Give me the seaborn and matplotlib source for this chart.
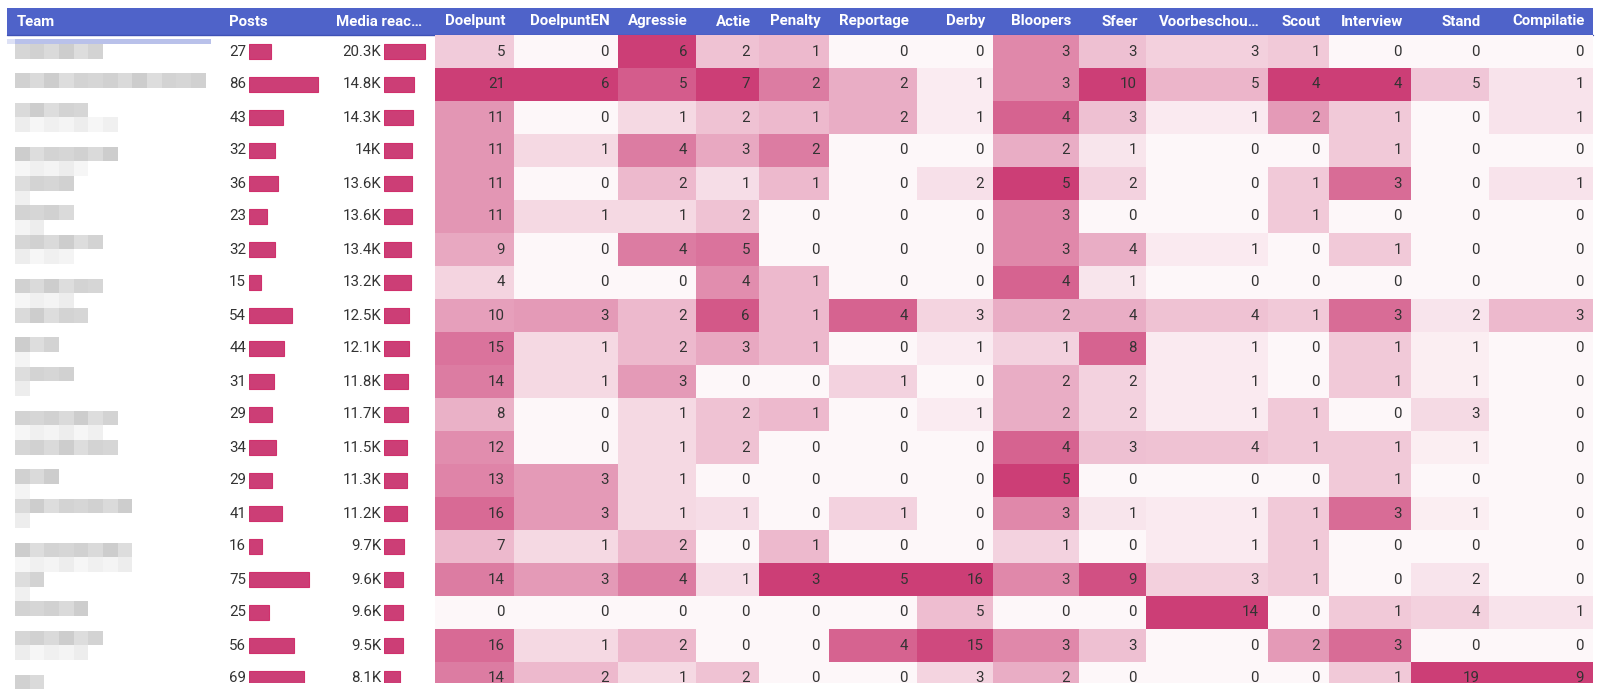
import numpy as np
import pandas as pd
import matplotlib
matplotlib.use("Agg")
import matplotlib.pyplot as plt
import matplotlib.transforms as mtransforms
from matplotlib.colors import LinearSegmentedColormap
from matplotlib.patches import Rectangle
import seaborn as sns

# ---------------- data ----------------
posts = [27, 86, 43, 32, 36, 23, 32, 15, 54, 44, 31, 29, 34, 29, 41, 16, 75, 25, 56, 69]
media = [20300, 14800, 14300, 14000, 13600, 13600, 13400, 13200, 12500, 12100,
         11800, 11700, 11500, 11300, 11200, 9700, 9600, 9600, 9500, 8100]
categories = ["Doelpunt", "DoelpuntEN", "Agressie", "Actie", "Penalty", "Reportage",
              "Derby", "Bloopers", "Sfeer", "Voorbeschou\u2026", "Scout", "Interview",
              "Stand", "Compilatie"]
doelpunt = [5, 21, 11, 11, 11, 11, 9, 4, 10, 15, 14, 8, 12, 13, 16, 7, 14, 0, 16, 14]
doelpunt_en = [0, 6, 0, 1, 0, 1, 0, 0, 3, 1, 1, 0, 0, 3, 3, 1, 3, 0, 1, 2]
agressie = [6, 5, 1, 4, 2, 1, 4, 0, 2, 2, 3, 1, 1, 1, 1, 2, 4, 0, 2, 1]
actie = [2, 7, 2, 3, 1, 2, 5, 4, 6, 3, 0, 2, 2, 0, 1, 0, 1, 0, 0, 2]
penalty = [1, 2, 1, 2, 1, 0, 0, 1, 1, 1, 0, 1, 0, 0, 0, 1, 3, 0, 0, 0]
reportage = [0, 2, 2, 0, 0, 0, 0, 0, 4, 0, 1, 0, 0, 0, 1, 0, 5, 0, 4, 0]
derby = [0, 1, 1, 0, 2, 0, 0, 0, 3, 1, 0, 1, 0, 0, 0, 0, 16, 5, 15, 3]
bloopers = [3, 3, 4, 2, 5, 3, 3, 4, 2, 1, 2, 2, 4, 5, 3, 1, 3, 0, 3, 2]
sfeer = [3, 10, 3, 1, 2, 0, 4, 1, 4, 8, 2, 2, 3, 0, 1, 0, 9, 0, 3, 0]
voorbeschouwing = [3, 5, 1, 0, 0, 0, 1, 0, 4, 1, 1, 1, 4, 0, 1, 1, 3, 14, 0, 0]
scout = [1, 4, 2, 0, 1, 1, 0, 0, 1, 0, 0, 1, 1, 0, 1, 1, 1, 0, 2, 0]
interview = [0, 4, 1, 1, 3, 0, 1, 0, 3, 1, 1, 0, 1, 1, 3, 0, 0, 1, 3, 1]
stand = [0, 5, 0, 0, 0, 0, 0, 0, 2, 1, 1, 3, 1, 0, 1, 0, 2, 4, 0, 19]
compilatie = [0, 1, 1, 0, 1, 0, 0, 0, 3, 0, 0, 0, 0, 0, 0, 0, 0, 1, 0, 9]
series = [doelpunt, doelpunt_en, agressie, actie, penalty, reportage, derby, bloopers,
          sfeer, voorbeschouwing, scout, interview, stand, compilatie]

# blurred team names: length (in pixel blocks) of main line and faint line
team_len = [6, 13, 5, 7, 4, 4, 6, 6, 5, 3, 4, 7, 7, 3, 8, 8, 2, 5, 6, 2]
team_faint = [0, 0, 7, 5, 1, 2, 4, 4, 0, 1, 1, 6, 0, 1, 1, 8, 1, 0, 5, 0]

# ---------------- style ----------------
sns.set_style("white")
plt.rcParams["font.family"] = ["Roboto", "DejaVu Sans"]

W, H, DPI = 1600, 692, 100
FS = 15 * 72 / DPI
HEADER_BG = "#4f63c9"
PINK = "#cc3e76"
LIGHT = "#fdf7f9"
TEXT = "#333333"

TOP, ROW, VIS_BOTTOM = 35, 33, 683
n = len(posts)
vis_rows = (VIS_BOTTOM - TOP) / ROW
edges = [435, 514, 618, 696, 759, 829, 917, 993, 1079, 1146, 1268, 1329, 1411, 1489, 1593]

fig = plt.figure(figsize=(W / DPI, H / DPI), dpi=DPI)
fig.patch.set_facecolor("white")


def px_axes(x0, y0, x1, y1):
    return fig.add_axes([x0 / W, 1 - y1 / H, (x1 - x0) / W, (y1 - y0) / H])


# ---------------- overlay: header + blurred names ----------------
ov = px_axes(0, 0, W, H)
ov.set_xlim(0, W)
ov.set_ylim(H, 0)
ov.axis("off")
ov.add_patch(Rectangle((7, 8), 1586, 27, facecolor=HEADER_BG, edgecolor="none"))
ov.plot([7, 1593], [34.5, 34.5], color="#3f51b5", lw=1)
ov.add_patch(Rectangle((7, 39), 8, 5, facecolor="#dde1f5", edgecolor="none"))
ov.add_patch(Rectangle((15, 39), 196, 5, facecolor="#b9c1ea", edgecolor="none"))

hdr_kw = dict(color="white", fontsize=FS, fontweight="bold", va="center")
ov.text(17, 21.5, "Team", ha="left", **hdr_kw)
ov.text(229, 21.5, "Posts", ha="left", **hdr_kw)
ov.text(336, 21.5, "Media reac\u2026", ha="left", **hdr_kw)
for j, name in enumerate(categories):
    ov.text(edges[j + 1] - 8, 21.5, name, ha="right", **hdr_kw)

BLK = 14.67
shades = ["#d6d6d6", "#d1d1d1", "#dadada", "#cdcdcd", "#dddddd", "#d3d3d3"]
faint = ["#f0f0f0", "#f4f4f4", "#ededed", "#f6f6f6"]
for i in range(n):
    cy = TOP + ROW * i + ROW / 2
    gy = 44 + BLK * np.floor((cy - 44) / BLK - 0.1)
    for m in range(team_len[i]):
        ov.add_patch(Rectangle((15 + BLK * m, gy), BLK, BLK,
                               facecolor=shades[(i + m) % len(shades)], edgecolor="none"))
    for m in range(team_faint[i]):
        ov.add_patch(Rectangle((15 + BLK * m, gy + BLK), BLK, BLK,
                               facecolor=faint[(i + m) % len(faint)], edgecolor="none"))

# ---------------- bar columns ----------------
rows_df = pd.DataFrame({
    "row": [f"r{i}" for i in range(n)],
    "posts": posts,
    "media_k": [m / 1000 for m in media],
})


def fmt_k(v):
    s = f"{v / 1000:.1f}"
    if s.endswith(".0"):
        s = s[:-2]
    return s + "K"


for x0, span, per_px, col, labels in [
    (249, 100, 0.8, "posts", [str(p) for p in posts]),
    (384, 60, 2.03, "media_k", [fmt_k(m) for m in media]),
]:
    ax = px_axes(x0, TOP, x0 + span, VIS_BOTTOM)
    sns.barplot(data=rows_df, x=col, y="row", orient="h", color=PINK, saturation=1,
                width=0.44, edgecolor="#d0306c", linewidth=0.8, ax=ax)
    ax.set_xlim(0, span / per_px)
    ax.set_ylim(-0.5 + vis_rows, -0.5)
    ax.axis("off")
    tr = mtransforms.offset_copy(ax.transData, fig=fig, x=-3, y=0, units="dots")
    for i, lab in enumerate(labels):
        ax.text(0, i, lab, transform=tr, ha="right", va="center",
                fontsize=FS, color=TEXT, clip_on=False)

# ---------------- heatmap columns ----------------
cmap = LinearSegmentedColormap.from_list("pinkscale", [LIGHT, PINK])
for j, (name, vals) in enumerate(zip(categories, series)):
    ax = px_axes(edges[j], TOP, edges[j + 1], VIS_BOTTOM)
    col_df = pd.DataFrame({name: vals})
    sns.heatmap(col_df, ax=ax, cmap=cmap, vmin=0, vmax=max(vals), cbar=False,
                xticklabels=False, yticklabels=False)
    ax.set_ylim(vis_rows, 0)
    ax.set_xlabel("")
    ax.set_ylabel("")
    tr = mtransforms.offset_copy(ax.transData, fig=fig, x=-9, y=0, units="dots")
    for i, v in enumerate(vals):
        ax.text(1, i + 0.5, str(v), transform=tr, ha="right", va="center",
                fontsize=FS, color=TEXT, clip_on=True)

fig.savefig("out.png", dpi=DPI, facecolor="white")
